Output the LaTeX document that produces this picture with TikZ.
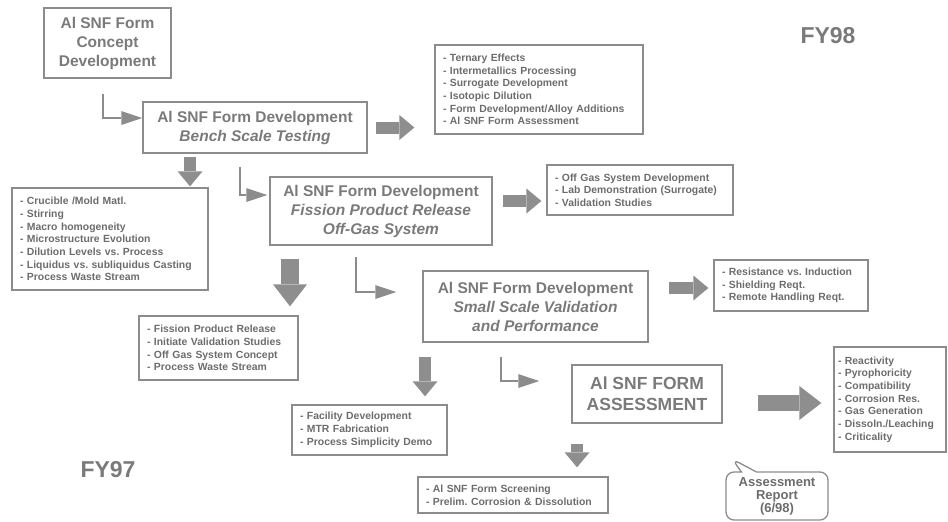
\documentclass[tikz,border=0pt]{standalone}
\usepackage{fontspec}
\setmainfont{Liberation Sans}
\usetikzlibrary{arrows.meta, calc, shapes.callouts}
\frenchspacing

\definecolor{framegray}{RGB}{140,140,140}
\definecolor{titlegray}{RGB}{122,122,122}
\definecolor{listgray}{RGB}{108,108,108}
\definecolor{arrowgray}{RGB}{142,142,142}

\tikzset{
  phase/.style={rectangle, draw=framegray, line width=1.5pt, align=center,
                text=titlegray, inner sep=0pt,
                font=\fontsize{15.5}{19}\selectfont\bfseries},
  verdict/.style={phase, font=\fontsize{17.5}{21}\selectfont\bfseries},
  tasks/.style={rectangle, draw=framegray, line width=1.3pt, align=left,
                text=listgray, inner xsep=8pt, inner ysep=0pt,
                font=\fontsize{10.4}{12.7}\selectfont\bfseries},
  report/.style={rectangle callout, rounded corners=8pt, draw=framegray,
                 line width=1.3pt, align=center, text=listgray, inner sep=0pt,
                 callout pointer width=15pt,
                 font=\fontsize{13}{13}\selectfont\bfseries},
  yearmark/.style={text=titlegray, font=\fontsize{23}{25}\selectfont\bfseries},
  lead/.style={draw=framegray, line width=2.3pt,
               -{Triangle[length=21pt, width=14pt, line width=0pt]}},
  fat/.style={draw=arrowgray, line width=12pt,
              -{Triangle[length=15pt, width=25pt, line width=0pt]}},
  bigfat/.style={draw=arrowgray, line width=18pt,
                 -{Triangle[length=22pt, width=34pt, line width=0pt]}},
}

\begin{document}
\begin{tikzpicture}[x=1pt, y=-1pt]

  \useasboundingbox (0,0) rectangle (948,522);

  % =====================================================
  % DEVELOPMENT PHASES
  % =====================================================

  \node[phase, minimum width=127pt, minimum height=70pt]
    (concept) at (107.5,43) {Al SNF Form\\Concept\\Development};

  \node[phase, minimum width=224pt, minimum height=51pt]
    (bench) at (255,127.5) {Al SNF Form Development\\\textit{Bench Scale Testing}};

  \node[phase, minimum width=222pt, minimum height=68pt]
    (fission) at (381,211) {Al SNF Form Development\\\textit{Fission Product Release}\\\textit{Off-Gas System}};

  \node[phase, minimum width=225pt, minimum height=71pt]
    (small) at (535.5,306.5) {Al SNF Form Development\\\textit{Small Scale Validation}\\\textit{and Performance}};

  \node[verdict, minimum width=150pt, minimum height=58pt]
    (assess) at (647,394) {Al SNF FORM\\ASSESSMENT};


  % =====================================================
  % TASK LISTS
  % =====================================================

  \node[tasks, text width=192pt, minimum height=89pt]
    (ternary) at (539,89.5) {- Ternary Effects\\- Intermetallics Processing\\- Surrogate Development\\- Isotopic Dilution\\- Form Development/Alloy Additions\\- Al SNF Form Assessment};

  \node[tasks, text width=180pt, minimum height=102pt]
    (casting) at (110,239) {- Crucible /Mold Matl.\\- Stirring\\- Macro homogeneity\\- Microstructure Evolution\\- Dilution Levels vs. Process\\- Liquidus vs. subliquidus Casting\\- Process Waste Stream};

  \node[tasks, text width=170pt, minimum height=50pt]
    (offgas) at (640,190) {- Off Gas System Development\\- Lab Demonstration (Surrogate)\\- Validation Studies};

  \node[tasks, text width=143pt, minimum height=64pt]
    (release) at (218.5,348) {- Fission Product Release\\- Initiate Validation Studies\\- Off Gas System Concept\\- Process Waste Stream};

  \node[tasks, text width=138pt, minimum height=51pt]
    (heating) at (791,285.5) {- Resistance vs. Induction\\- Shielding Reqt.\\- Remote Handling Reqt.};

  \node[tasks, text width=139pt, minimum height=50pt]
    (facility) at (369.5,430) {- Facility Development\\- MTR Fabrication\\- Process Simplicity Demo};

  \node[tasks, text width=174pt, minimum height=36pt]
    (screening) at (513,495) {- Al SNF Form Screening\\- Prelim. Corrosion \& Dissolution};

  \node[tasks, inner xsep=4pt, text width=104pt, minimum height=105pt]
    (safety) at (890,399.5) {- Reactivity\\- Pyrophoricity\\- Compatibility\\- Corrosion Res.\\- Gas Generation\\- Dissoln./Leaching\\- Criticality};


  % =====================================================
  % REPORT AND YEARS
  % =====================================================

  \node[report, minimum width=102pt, minimum height=48pt,
        callout absolute pointer={(732,459)}]
    (rpt) at (777,496) {Assessment\\Report\\(6/98)};

  \node[yearmark] (fy98) at (828,36) {FY98};
  \node[yearmark] (fy97) at (108,470) {FY97};


  % =====================================================
  % PHASE SEQUENCE
  % =====================================================

  \draw[lead]
    ([xshift=-4.5pt, yshift=-15pt]concept.south)
    |- ([yshift=9.5pt]bench.west);

  \draw[lead]
    ([xshift=-15pt, yshift=-13pt]bench.south)
    |- ([xshift=-2pt, yshift=16pt]fission.west);

  \draw[lead]
    ([xshift=-25pt, yshift=-11pt]fission.south)
    |- ([xshift=-26pt, yshift=14.5pt]small.west);

  \draw[lead]
    ([xshift=-34.5pt, yshift=-14pt]small.south)
    |- ([xshift=-32pt, yshift=13pt]assess.west);


  % =====================================================
  % PHASE OUTPUTS
  % =====================================================

  \draw[fat]
    ($(bench.east)+(8,0)$) -- ($(bench.east -| ternary.west)+(-20,0)$);

  \draw[fat]
    ($(bench.south)+(-65,3)$) -- ($(casting.north)+(80,-1)$);

  \draw[fat]
    ($(fission.east)+(10,-10)$) -- ($(offgas.west)+(-5,11)$);

  \draw[bigfat]
    ($(fission.south)+(-91,13)$) -- ($(release.north)+(71.5,-9)$);

  \draw[fat]
    ($(small.east)+(20,-18.5)$) -- ($(heating.west)+(-5,2.5)$);

  \draw[fat]
    ($(small.south)+(-110.5,14)$) -- ($(facility.north)+(55.5,-8)$);

  \draw[bigfat, line width=16pt]
    ($(assess.east)+(35,9)$) -- ($(safety.west)+(-12,3.5)$);

  \draw[fat]
    ($(assess.south)+(-70,20)$) -- ($(screening.north)+(64,-9)$);

\end{tikzpicture}
\end{document}
